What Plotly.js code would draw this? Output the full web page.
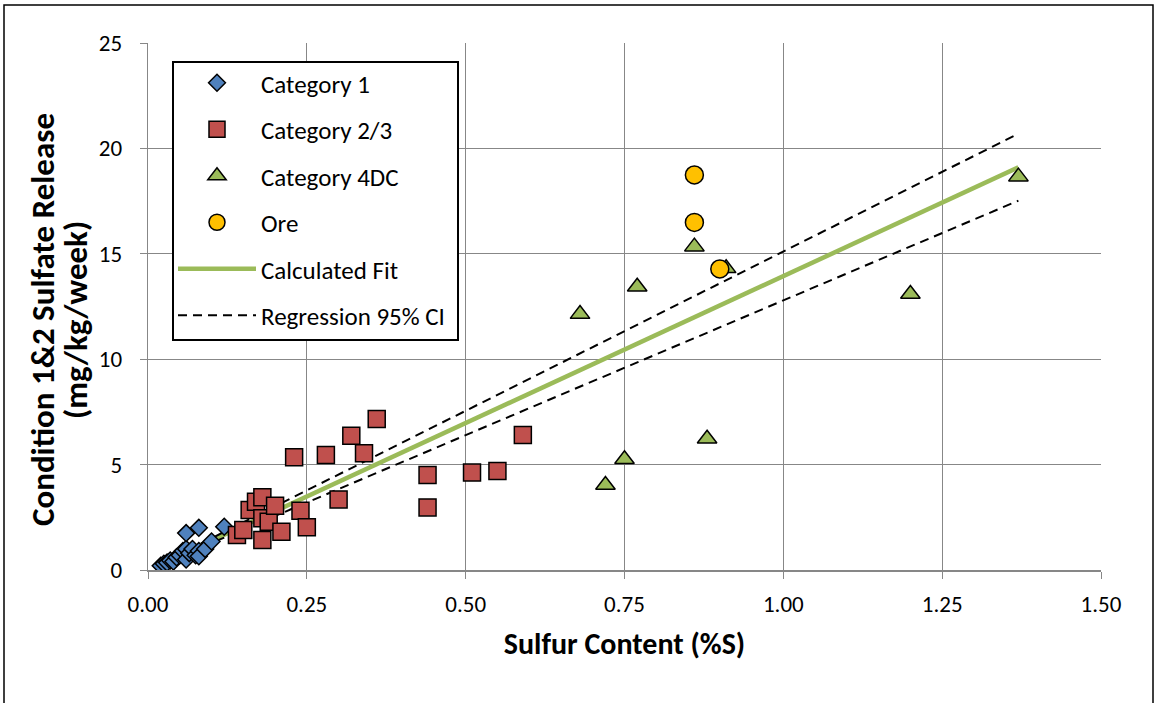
<!DOCTYPE html>
<html>
<head>
<meta charset="utf-8">
<script src="https://cdn.plot.ly/plotly-3.0.1.min.js"></script>
<style>
  html, body { margin: 0; padding: 0; background: #fff; }
  #chart { width: 1156px; height: 703px; }
</style>
</head>
<body>
<div id="chart"></div>
<script>
// Category 1
const cat1X = [0.02, 0.025, 0.03, 0.035, 0.04, 0.045, 0.05, 0.055, 0.06, 0.06, 0.065, 0.07, 0.075, 0.08, 0.08, 0.09, 0.10, 0.06, 0.08, 0.12];
const cat1Y = [0.2, 0.3, 0.35, 0.45, 0.4, 0.6, 0.7, 0.9, 0.5, 1.0, 0.8, 1.0, 0.7, 0.9, 0.65, 1.0, 1.35, 1.75, 2.0, 2.05];
// Category 2/3
const cat23X = [0.14, 0.15, 0.16, 0.17, 0.18, 0.18, 0.18, 0.19, 0.20, 0.21, 0.23, 0.24, 0.25, 0.28, 0.30, 0.32, 0.34, 0.36, 0.44, 0.44, 0.51, 0.55, 0.59];
const cat23Y = [1.66, 1.90, 2.85, 3.24, 3.45, 2.45, 1.42, 2.29, 3.05, 1.82, 5.35, 2.81, 2.03, 5.46, 3.35, 6.37, 5.54, 7.16, 4.51, 2.97, 4.62, 4.70, 6.40];
// Category 4DC
const cat4X = [0.68, 0.72, 0.75, 0.77, 0.86, 0.88, 0.91, 1.20, 1.37];
const cat4Y = [12.14, 4.03, 5.25, 13.44, 15.34, 6.23, 14.31, 13.09, 18.66];
// Ore
const oreX = [0.86, 0.86, 0.90];
const oreY = [18.74, 16.49, 14.28];
// Calculated fit
const fitX = [0.02, 1.37];
const fitY = [0.28, 19.10];
// Regression 95% CI
const ciX = [0.02, 1.37];
const ciUpper = [0.30, 20.70];
const ciLower = [0.26, 17.52];

const xTicks = [0, 0.25, 0.5, 0.75, 1.0, 1.25, 1.5];
const yTicks = [0, 5, 10, 15, 20, 25];

const yTitleLines = ['<b>Condition 1&2 Sulfate Release</b>', '<b>(mg/kg/week)</b>'];

const FONT = 'Carlito, Lato, "Open Sans", sans-serif';

// plot-area pixel helpers for paper coordinates
const L = 148, T = 43, W = 953, H = 527;
const px = v => (v - L) / W;
const py = v => (T + H - v) / H;

const traces = [
  {x: fitX, y: fitY, name: 'Calculated Fit', mode: 'lines', legendrank: 5, legendgroup: 'e',
   line: {color: '#9BBB59', width: 4.5}},
  {x: ciX, y: ciUpper, name: 'Regression 95% CI', mode: 'lines', legendrank: 6, legendgroup: 'f',
   line: {color: '#000', width: 2, dash: '9px,6px'}},
  {x: ciX, y: ciLower, name: 'Regression 95% CI', mode: 'lines', showlegend: false, legendgroup: 'f',
   line: {color: '#000', width: 2, dash: '9px,6px'}},
  {x: cat1X, y: cat1Y, name: 'Category 1', mode: 'markers', legendrank: 1, legendgroup: 'a',
   marker: {symbol: 'diamond', size: 13, color: '#4F81BD', line: {color: '#000', width: 1.5}}},
  {x: cat23X, y: cat23Y, name: 'Category 2/3', mode: 'markers', legendrank: 2, legendgroup: 'b',
   marker: {symbol: 'square', size: 17, color: '#C0504D', line: {color: '#000', width: 1.5}}},
  {x: cat4X, y: cat4Y, name: 'Category 4DC', mode: 'markers', legendrank: 3, legendgroup: 'c',
   marker: {symbol: 'triangle-up', size: 17, color: '#9BBB59', line: {color: '#000', width: 1.5}}},
  {x: oreX, y: oreY, name: 'Ore', mode: 'markers', legendrank: 4, legendgroup: 'd',
   marker: {symbol: 'circle', size: 18, color: '#FFC000', line: {color: '#000', width: 1.5}}}
];

const layout = {
  width: 1156, height: 703,
  margin: {l: L, r: 1156 - L - W, t: T, b: 703 - T - H},
  paper_bgcolor: '#fff', plot_bgcolor: '#fff',
  font: {family: FONT, size: 23, color: '#000'},
  showlegend: true,
  legend: {
    x: px(173), y: py(60), xanchor: 'left', yanchor: 'top',
    bgcolor: 'rgba(0,0,0,0)', borderwidth: 0,
    font: {family: FONT, size: 25, color: '#000'},
    traceorder: 'grouped', tracegroupgap: 11, itemwidth: 78
  },
  xaxis: {
    range: [0, 1.5], tickvals: xTicks, tickformat: '.2f',
    showgrid: true, gridcolor: '#878787', gridwidth: 1.3,
    zeroline: false, showline: true, linecolor: '#878787', linewidth: 2,
    ticks: 'outside', ticklen: 7, tickcolor: '#878787',
    ticklabelstandoff: 5,
    tickfont: {family: FONT, size: 23, color: '#000'},
    title: {text: '<b>Sulfur Content (%S)</b>', font: {family: FONT, size: 30, color: '#000'}, standoff: 16}
  },
  yaxis: {
    range: [0, 25], tickvals: yTicks,
    showgrid: true, gridcolor: '#878787', gridwidth: 1.3,
    zeroline: false, showline: true, linecolor: '#878787', linewidth: 1.3,
    ticks: 'outside', ticklen: 7, tickcolor: '#878787',
    ticklabelstandoff: 13,
    tickfont: {family: FONT, size: 23, color: '#000'}
  },
  annotations: [
    {text: yTitleLines[0], xref: 'paper', yref: 'paper', x: px(43), y: py(320),
     xanchor: 'center', yanchor: 'middle', textangle: -90, showarrow: false,
     font: {family: FONT, size: 33, color: '#000'}},
    {text: yTitleLines[1], xref: 'paper', yref: 'paper', x: px(76), y: py(320),
     xanchor: 'center', yanchor: 'middle', textangle: -90, showarrow: false,
     font: {family: FONT, size: 33, color: '#000'}}
  ],
  shapes: [
    {type: 'rect', xref: 'paper', yref: 'paper',
     x0: px(4), x1: px(1153), y0: py(720), y1: py(5),
     line: {color: '#000', width: 1.5}, fillcolor: 'rgba(0,0,0,0)', layer: 'below'},
    {type: 'rect', xref: 'paper', yref: 'paper',
     x0: px(173), x1: px(458), y0: py(340), y1: py(62),
     line: {color: '#000', width: 2}, fillcolor: '#fff', layer: 'above'}
  ]
};

Plotly.newPlot('chart', traces, layout, {displayModeBar: false, staticPlot: true});
</script>
</body>
</html>
